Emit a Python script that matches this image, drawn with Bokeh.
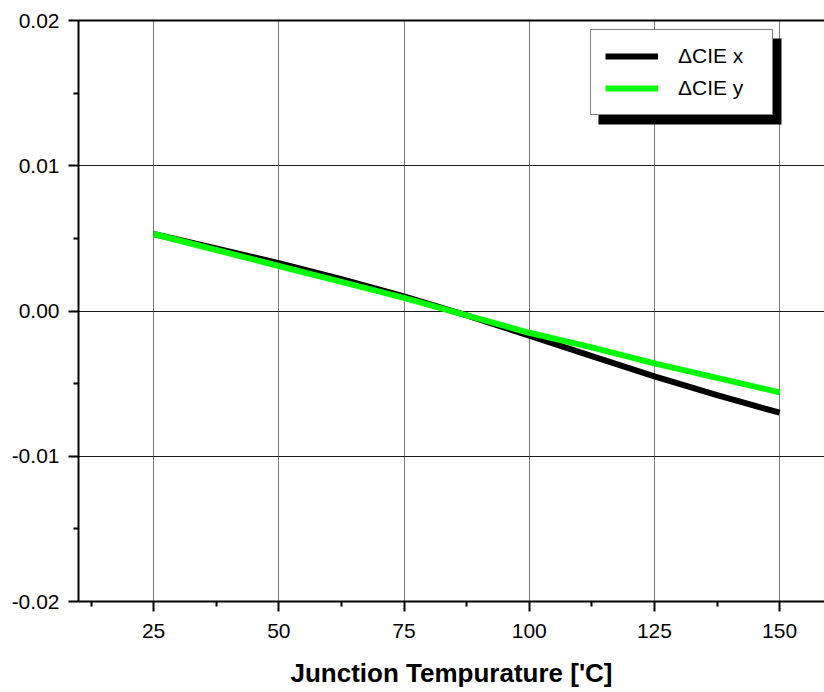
from bokeh.plotting import figure
from bokeh.models import (Range1d, FixedTicker, PrintfTickFormatter, LinearAxis,
                          Legend, LegendItem, BoxAnnotation)
from bokeh.embed import file_html
from bokeh.resources import INLINE

# ---- data ----
temperature = [25, 37.5, 50, 62.5, 75, 87.5, 100, 112.5, 125, 137.5, 150]
delta_cie_x = [0.0053, 0.0043, 0.0033, 0.0022, 0.0010, -0.0003, -0.0017, -0.0031, -0.0045, -0.0058, -0.0070]
delta_cie_y = [0.0053, 0.0042, 0.0031, 0.0020, 0.0009, -0.0003, -0.0015, -0.0025, -0.0036, -0.0046, -0.0056]
x_ticks = [25, 50, 75, 100, 125, 150]
x_minor = [12.5, 37.5, 62.5, 87.5, 112.5, 137.5]
y_ticks = [-0.02, -0.01, 0.0, 0.01, 0.02]
y_minor = [-0.015, -0.005, 0.005, 0.015]
series_names = ["\u0394CIE x", "\u0394CIE y"]
x_title = "Junction Tempurature ['C]"

FONT = "Liberation Sans"
X0, X1 = 10, 158.96
Y0, Y1 = -0.02, 0.02
W, H = 824, 692
BL, BT, BB = 78, 20, 91
FW, FH = W - BL, H - BT - BB

p = figure(width=W, height=H, output_backend="svg", toolbar_location=None,
           x_range=Range1d(X0, X1), y_range=Range1d(Y0, Y1),
           min_border_left=BL, min_border_right=0, min_border_top=BT,
           min_border_bottom=BB, outline_line_color=None,
           background_fill_color="white", border_fill_color="white")

# axes
xa = p.xaxis[0]
xa.ticker = FixedTicker(ticks=x_ticks, minor_ticks=x_minor)
xa.axis_label = x_title
ya = p.yaxis[0]
ya.ticker = FixedTicker(ticks=y_ticks, minor_ticks=y_minor)
ya.formatter = PrintfTickFormatter(format="%.2f")
for ax in (xa, ya):
    ax.axis_line_width = 2
    ax.axis_line_color = "black"
    ax.major_tick_line_width = 2
    ax.major_tick_line_color = "black"
    ax.major_tick_out = 10
    ax.major_tick_in = 0
    ax.minor_tick_line_width = 2
    ax.minor_tick_line_color = "black"
    ax.minor_tick_out = 5
    ax.minor_tick_in = 0
    ax.major_label_text_font = FONT
    ax.major_label_text_font_size = "21px"
    ax.major_label_text_color = "black"
xa.major_label_standoff = 12
ya.major_label_standoff = 9
xa.axis_label_text_font = FONT
xa.axis_label_text_font_size = "26px"
xa.axis_label_text_font_style = "bold"
xa.axis_label_text_color = "black"
xa.axis_label_standoff = 17

top = LinearAxis(ticker=FixedTicker(ticks=[]), axis_line_width=2, axis_line_color="black",
                 major_tick_line_color=None, minor_tick_line_color=None)
p.add_layout(top, "above")

# grids
p.xgrid[0].ticker = FixedTicker(ticks=x_ticks)
p.xgrid[0].grid_line_color = "#7a7a7a"
p.xgrid[0].grid_line_width = 1
p.ygrid[0].ticker = FixedTicker(ticks=y_ticks)
p.ygrid[0].grid_line_color = "#1a1a1a"
p.ygrid[0].grid_line_width = 1

rx = p.line(temperature, delta_cie_x, line_color="black", line_width=6, line_join="round")
ry = p.line(temperature, delta_cie_y, line_color="#00ff00", line_width=6, line_join="round")

# legend shadow
sx = (X1 - X0) / FW
sy = (Y1 - Y0) / FH
shadow = BoxAnnotation(left=X0 + (598 - BL) * sx, right=X0 + (781 - BL) * sx,
                       top=Y1 - (38 - BT) * sy, bottom=Y1 - (124 - BT) * sy,
                       fill_color="black", fill_alpha=1.0, line_color=None)
p.add_layout(shadow)

legend = Legend(items=[LegendItem(label=series_names[0], renderers=[rx]),
                       LegendItem(label=series_names[1], renderers=[ry])],
                location=(512, 486), padding=14, spacing=8,
                glyph_width=53, glyph_height=20, label_height=20, label_width=80,
                label_standoff=20, margin=0,
                label_text_font=FONT, label_text_font_size="21px", label_text_color="black",
                border_line_color="black", border_line_width=1,
                background_fill_color="white", background_fill_alpha=1.0)
p.add_layout(legend, "center")

open("out.html", "w").write(file_html(p, INLINE))
